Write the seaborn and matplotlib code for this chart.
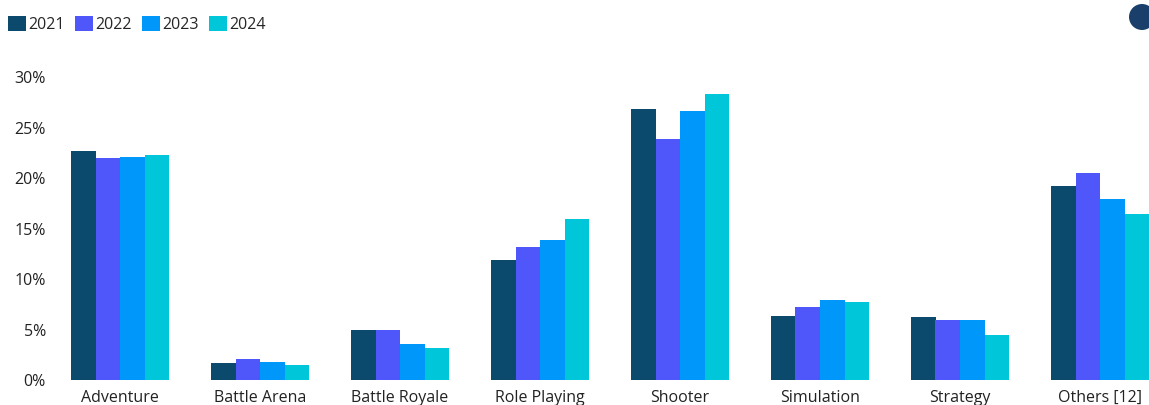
import pandas as pd
import matplotlib.pyplot as plt
import seaborn as sns
from matplotlib.patches import Ellipse

# Share of players by game genre (%)
genres = ["Adventure", "Battle Arena", "Battle Royale", "Role Playing",
          "Shooter", "Simulation", "Strategy", "Others [12]"]
years = ["2021", "2022", "2023", "2024"]
share_2021 = [22.7, 1.7, 5.0, 11.9, 26.8, 6.3, 6.2, 19.2]
share_2022 = [22.0, 2.1, 5.0, 13.2, 23.9, 7.2, 5.9, 20.5]
share_2023 = [22.1, 1.8, 3.6, 13.9, 26.6, 7.9, 5.9, 17.9]
share_2024 = [22.3, 1.5, 3.2, 15.9, 28.3, 7.7, 4.5, 16.4]
colors = ["#0b4a6d", "#4f56fa", "#0097fb", "#00c6da"]

rows = []
for year, vals in zip(years, [share_2021, share_2022, share_2023, share_2024]):
    for g, v in zip(genres, vals):
        rows.append({"genre": g, "year": year, "share": v})
df = pd.DataFrame(rows)

sns.set_style("white")
plt.rcParams["font.family"] = ["Open Sans", "DejaVu Sans"]

fig = plt.figure(figsize=(11.49, 4.05), dpi=100)
ax = fig.add_axes([50 / 1149, 25 / 405, 1099 / 1149, 303 / 405])

sns.barplot(data=df, x="genre", y="share", hue="year", order=genres,
            hue_order=years, palette=colors, saturation=1, width=0.7,
            linewidth=0, ax=ax)

ax.set_xlim(-0.5, 7.35)
ax.set_ylim(0, 30)
ax.set_yticks(range(0, 31, 5))
ax.set_yticklabels([f"{t}%" for t in range(0, 31, 5)])
ax.set_xlabel("")
ax.set_ylabel("")
ax.tick_params(axis="both", length=0, labelsize=11.5, colors="#222222")
ax.tick_params(axis="y", pad=3)
ax.tick_params(axis="x", pad=7)
sns.despine(ax=ax, left=True, bottom=True)

handles, labels = ax.get_legend_handles_labels()
ax.get_legend().remove()
fig.legend(handles, labels, loc="upper left", bbox_to_anchor=(-0.001, 0.985),
           ncol=4, frameon=False, fontsize=11.5, handlelength=1.1,
           handleheight=1.1, handletextpad=0.15, columnspacing=0.65,
           borderaxespad=0.2)

# small logo circle in the corner
fig.patches.append(Ellipse((1142 / 1149, 1 - 17 / 405), 26 / 1149, 26 / 405,
                           transform=fig.transFigure,
                           facecolor="#1b3f6b", edgecolor="none"))

plt.savefig("out.png", dpi=100)
